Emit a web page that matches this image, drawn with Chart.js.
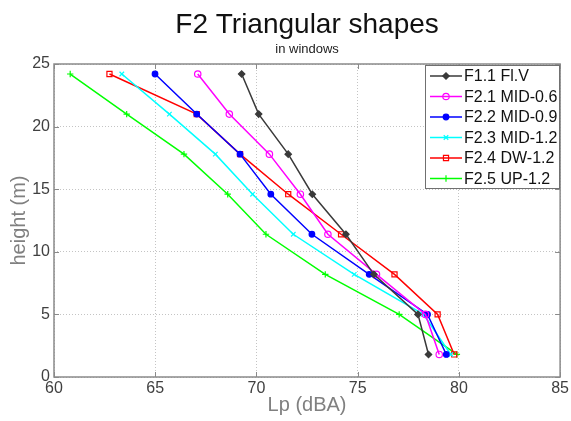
<!DOCTYPE html>
<html>
<head>
<meta charset="utf-8">
<script src="https://cdn.jsdelivr.net/npm/chart.js@4/dist/chart.umd.min.js"></script>
<style>
html,body{margin:0;padding:0;background:#fff;}
#wrap{width:571px;height:421px;}
</style>
</head>
<body>
<div id="wrap"><canvas id="c" width="571" height="421"></canvas></div>
<script>
// ---- data ----
const heights = [24.2, 21.0, 17.8, 14.6, 11.4, 8.2, 5.0, 1.8];
const seriesLabels = ['F1.1 Fl.V', 'F2.1 MID-0.6', 'F2.2 MID-0.9', 'F2.3 MID-1.2', 'F2.4 DW-1.2', 'F2.5 UP-1.2'];
const f11 = [69.27, 70.11, 71.57, 72.76, 74.42, 75.8, 77.98, 78.5];
const f21 = [67.1, 68.66, 70.64, 72.17, 73.53, 75.93, 78.35, 79.03];
const f22 = [64.99, 67.05, 69.19, 70.71, 72.74, 75.57, 78.45, 79.38];
const f23 = [63.35, 65.7, 67.97, 69.81, 71.82, 74.83, 78.25, 79.6];
const f24 = [62.74, 67.05, 69.19, 71.57, 74.18, 76.82, 78.95, 79.77];
const f25 = [60.8, 63.59, 66.42, 68.58, 70.47, 73.4, 77.05, 79.9];
const xTicks = [60, 65, 70, 75, 80, 85];
const yTicks = [0, 5, 10, 15, 20, 25];
const titleText = 'F2 Triangular shapes';
const subtitleText = 'in windows';
const xTitle = 'Lp (dBA)';
const yTitle = 'height (m)';

const FONT = '"Liberation Sans", Arial, sans-serif';

function pts(xs){ return xs.map((x,i)=>({x:x, y:heights[i]})); }

const styles = [
  {color:'#3a3a3a', point:'rectRot', r:3.2, fill:'#3a3a3a'},
  {color:'#ff00ff', point:'circle', r:3.2, fill:'rgba(255,255,255,0)'},
  {color:'#0000ff', point:'circle', r:2.8, fill:'#0000ff'},
  {color:'#00ffff', point:'crossRot', r:3.2, fill:'#00ffff'},
  {color:'#ff0000', point:'rect', r:3.6, fill:'rgba(255,255,255,0)'},
  {color:'#00ff00', point:'cross', r:3.2, fill:'#00ff00'}
];
const seriesData = [f11, f21, f22, f23, f24, f25];

const datasets = seriesData.map((s,i)=>({
  label: seriesLabels[i],
  data: pts(s),
  showLine: true,
  borderColor: styles[i].color,
  backgroundColor: styles[i].fill,
  borderWidth: 1.5,
  pointStyle: styles[i].point,
  pointRadius: styles[i].r,
  pointBorderColor: styles[i].color,
  pointBackgroundColor: styles[i].fill,
  pointBorderWidth: 1.2,
  tension: 0
}));

const decor = {
  id: 'decor',
  beforeDatasetsDraw(chart){
    const ctx = chart.ctx, a = chart.chartArea;
    const xs = chart.scales.x, ys = chart.scales.y;
    ctx.save();
    ctx.strokeStyle = '#8a8a8a';
    ctx.lineWidth = 1;
    ctx.beginPath();
    xTicks.forEach(v=>{
      const px = Math.round(xs.getPixelForValue(v))+0.5;
      ctx.moveTo(px, a.bottom); ctx.lineTo(px, a.bottom-5);
      ctx.moveTo(px, a.top); ctx.lineTo(px, a.top+5);
    });
    yTicks.forEach(v=>{
      const py = Math.round(ys.getPixelForValue(v))+0.5;
      ctx.moveTo(a.left, py); ctx.lineTo(a.left+5, py);
      ctx.moveTo(a.right, py); ctx.lineTo(a.right-5, py);
    });
    ctx.stroke();
    ctx.restore();
  },
  afterDraw(chart){
    const ctx = chart.ctx, a = chart.chartArea;
    ctx.save();
    ctx.strokeStyle = '#8a8a8a';
    ctx.lineWidth = 1.5;
    ctx.strokeRect(a.left, a.top, a.right-a.left, a.bottom-a.top);
    const cx = (a.left + a.right)/2;
    ctx.fillStyle = '#111';
    ctx.textAlign = 'center';
    ctx.textBaseline = 'alphabetic';
    ctx.font = '28px ' + FONT;
    ctx.fillText(titleText, cx, 33);
    ctx.font = '13px ' + FONT;
    ctx.fillStyle = '#222';
    ctx.fillText(subtitleText, cx, 53);
    ctx.fillStyle = '#808080';
    ctx.font = '20px ' + FONT;
    ctx.fillText(xTitle, cx, 411);
    ctx.save();
    ctx.translate(25, (a.top+a.bottom)/2);
    ctx.rotate(-Math.PI/2);
    ctx.fillText(yTitle, 0, 0);
    ctx.restore();
    const lx = 425.5, ly = 65.5, lw = 134, lh = 123;
    ctx.fillStyle = '#fff';
    ctx.fillRect(lx, ly, lw, lh);
    ctx.strokeStyle = '#707070';
    ctx.lineWidth = 1;
    ctx.strokeRect(lx, ly, lw, lh);
    ctx.font = '16px ' + FONT;
    ctx.textAlign = 'left';
    ctx.textBaseline = 'middle';
    chart.data.datasets.forEach((ds,i)=>{
      const y = 76 + i*20.5;
      ctx.strokeStyle = ds.borderColor;
      ctx.lineWidth = 1.5;
      ctx.beginPath();
      ctx.moveTo(430, y); ctx.lineTo(462, y);
      ctx.stroke();
      ctx.lineWidth = 1.2;
      ctx.fillStyle = ds.pointBackgroundColor;
      Chart.helpers.drawPoint(ctx, {pointStyle: ds.pointStyle, radius: ds.pointRadius, rotation: 0, borderWidth: 1.2}, 446, y);
      ctx.fillStyle = '#111';
      ctx.fillText(ds.label, 464, y+1);
    });
    ctx.restore();
  }
};

new Chart(document.getElementById('c'), {
  type: 'scatter',
  data: { datasets },
  options: {
    responsive: false,
    animation: false,
    devicePixelRatio: 1,
    layout: { padding: { top: 64, right: 9.5, bottom: 0, left: 0 } },
    plugins: { legend: { display: false }, tooltip: { enabled: false }, title: {display:false} },
    scales: {
      x: {
        type: 'linear', min: 60, max: 85,
        afterBuildTicks(scale){ scale.ticks = xTicks.map(v=>({value:v})); },
        afterFit(scale){ scale.height = 44; },
        ticks: { color: '#404040', font: { size: 16, family: FONT }, padding: 2, maxRotation: 0 },
        grid: { color: '#c4c4c4', drawTicks: false, lineWidth: 1 },
        border: { display: false, dash: [1,2] }
      },
      y: {
        type: 'linear', min: 0, max: 25,
        afterBuildTicks(scale){ scale.ticks = yTicks.map(v=>({value:v})); },
        afterFit(scale){ scale.width = 54; },
        ticks: { color: '#404040', font: { size: 16, family: FONT }, padding: 4 },
        grid: { color: '#c4c4c4', drawTicks: false, lineWidth: 1 },
        border: { display: false, dash: [1,2] }
      }
    }
  },
  plugins: [decor]
});
</script>
</body>
</html>
